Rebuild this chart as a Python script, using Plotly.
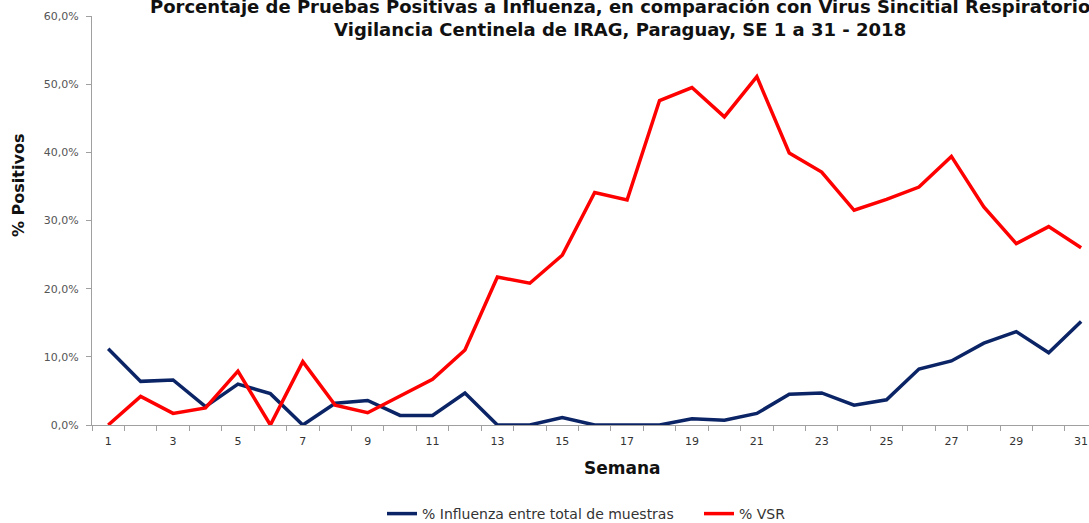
import plotly.graph_objects as go

semanas = list(range(1, 32))
influenza = [11.2, 6.4, 6.6, 2.7, 6.0, 4.6, 0.0, 3.2, 3.6, 1.4, 1.4, 4.7, 0.0, 0.0, 1.1, 0.0,
             0.0, 0.0, 0.9, 0.7, 1.7, 4.5, 4.7, 2.9, 3.7, 8.2, 9.4, 12.0, 13.7, 10.6, 15.2]
vsr = [0.0, 4.2, 1.7, 2.5, 7.9, 0.0, 9.3, 2.9, 1.8, 4.2, 6.7, 11.0, 21.7, 20.8, 24.9, 34.1,
       33.0, 47.6, 49.5, 45.2, 51.1, 39.9, 37.1, 31.5, 33.1, 34.9, 39.4, 32.0, 26.6, 29.1, 26.0]
y_ticks = [0, 10, 20, 30, 40, 50, 60]
y_tick_labels = ["0,0%", "10,0%", "20,0%", "30,0%", "40,0%", "50,0%", "60,0%"]
x_ticks = list(range(1, 32, 2))

FONT = "DejaVu Sans, Liberation Sans, Arial, sans-serif"
L, T, B = 92, 16, 98
W, H = 1089, 523
PW, PH = W - L, H - T - B


def px_to_paper(x, y):
    return (x - L) / PW, (H - B - y) / PH


fig = go.Figure()
fig.add_trace(go.Scatter(x=semanas, y=influenza, mode="lines",
                         name="% Influenza entre total de muestras",
                         line=dict(color="#0b2466", width=3.5)))
fig.add_trace(go.Scatter(x=semanas, y=vsr, mode="lines", name="% VSR",
                         line=dict(color="#ff0000", width=3.5)))

tx, ty = px_to_paper(620, 18)
ax_x, ax_y = px_to_paper(18, 186)
sx, sy = px_to_paper(622, 468)
lx, ly = px_to_paper(382, 514)

fig.update_layout(
    width=W, height=H,
    margin=dict(l=L, r=0, t=T, b=B, autoexpand=False),
    paper_bgcolor="white", plot_bgcolor="white",
    font=dict(family=FONT, color="#333"),
    showlegend=True,
    legend=dict(orientation="h", x=lx, y=ly, xanchor="left", yanchor="middle",
                font=dict(size=14, color="#333", family=FONT), entrywidth=272,
                itemwidth=30, traceorder="normal"),
    annotations=[
        dict(text="<b>Porcentaje de Pruebas Positivas a Influenza, en comparación con Virus Sincitial Respiratorio<br>Vigilancia Centinela de IRAG, Paraguay, SE 1 a 31 - 2018</b>",
             xref="paper", yref="paper", x=tx, y=ty, xanchor="center", yanchor="middle",
             showarrow=False, align="center",
             font=dict(size=18, color="#111", family=FONT)),
        dict(text="<b>% Positivos</b>", xref="paper", yref="paper", x=ax_x, y=ax_y,
             xanchor="center", yanchor="middle", showarrow=False, textangle=-90,
             font=dict(size=16, color="#111", family=FONT)),
        dict(text="<b>Semana</b>", xref="paper", yref="paper", x=sx, y=sy,
             xanchor="center", yanchor="middle", showarrow=False,
             font=dict(size=17, color="#111", family=FONT)),
    ],
)

fig.update_xaxes(
    range=[0.5, 0.5 + PW / 32.43], tickmode="array", tickvals=x_ticks,
    ticktext=[str(v) for v in x_ticks], automargin=False,
    ticks="", showgrid=False, zeroline=False, showline=True, linecolor="#a0a0a0", linewidth=1,
    tickfont=dict(size=11, color="#333", family=FONT), ticklabelstandoff=6,
    minor=dict(tickmode="linear", tick0=0.5, dtick=1, ticks="outside", ticklen=5,
               tickcolor="#a0a0a0", showgrid=False),
)
fig.update_yaxes(
    range=[0, 60], tickmode="array", tickvals=y_ticks, ticktext=y_tick_labels, automargin=False,
    ticks="outside", ticklen=5, tickcolor="#a0a0a0", showgrid=False, zeroline=False,
    showline=True, linecolor="#a0a0a0", linewidth=1,
    tickfont=dict(size=11, color="#555", family=FONT), ticklabelstandoff=5,
)

fig.write_html("out.html", config={"displayModeBar": False},
               post_script="document.body.style.margin='0';document.body.style.overflow='hidden';")
